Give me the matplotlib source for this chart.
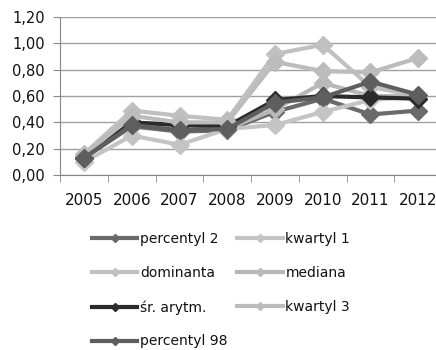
import matplotlib
matplotlib.use("Agg")
import matplotlib.pyplot as plt
from matplotlib.lines import Line2D

years = ["2005", "2006", "2007", "2008", "2009", "2010", "2011", "2012"]
percentyl_2 = [0.13, 0.37, 0.33, 0.34, 0.48, 0.58, 0.46, 0.49]
kwartyl_1 = [0.10, 0.30, 0.23, 0.35, 0.38, 0.48, 0.57, 0.60]
dominanta = [0.16, 0.49, 0.45, 0.42, 0.92, 0.99, 0.67, 0.60]
mediana = [0.14, 0.38, 0.35, 0.35, 0.50, 0.70, 0.60, 0.60]
sr_arytm = [0.13, 0.40, 0.38, 0.37, 0.57, 0.60, 0.59, 0.58]
kwartyl_3 = [0.15, 0.45, 0.40, 0.40, 0.86, 0.79, 0.78, 0.89]
percentyl_98 = [0.13, 0.38, 0.34, 0.35, 0.55, 0.59, 0.71, 0.61]
yticks = [0, 0.2, 0.4, 0.6, 0.8, 1.0, 1.2]

series = [
    ("percentyl 2", percentyl_2, "#6a6a6a"),
    ("kwartyl 1", kwartyl_1, "#c4c4c4"),
    ("dominanta", dominanta, "#c0c0c0"),
    ("mediana", mediana, "#b8b8b8"),
    ("śr. arytm.", sr_arytm, "#2b2b2b"),
    ("kwartyl 3", kwartyl_3, "#bcbcbc"),
    ("percentyl 98", percentyl_98, "#5e5e5e"),
]

plt.rcParams['font.family'] = ['DejaVu Sans']
fig = plt.figure(figsize=(4.36, 3.5), dpi=100)
ax = fig.add_axes([0.138, 0.5, 0.876, 0.451])
x = list(range(len(years)))
lines = {}
for name, vals, col in series:
    ln, = ax.plot(x, vals, color=col, lw=3, marker='D', markersize=9,
                  markeredgecolor=col, markerfacecolor=col, label=name)
    lines[name] = ln

ax.set_xlim(-0.5, len(years) - 0.5)
ax.set_ylim(0, 1.2)
ax.set_yticks(yticks)
ax.set_yticklabels([f"{v:.2f}".replace('.', ',') for v in yticks],
                   fontsize=10.5, color='#111111')
ax.set_xticks(x)
ax.set_xticklabels(years, fontsize=11, color='#111111')
ax.set_xticks([i - 0.5 for i in range(len(years) + 1)], minor=True)
ax.tick_params(axis='x', which='major', length=0, pad=13)
ax.tick_params(axis='x', which='minor', length=5, color='#888888', direction='out')
ax.tick_params(axis='y', length=5, color='#888888', direction='out', pad=6)
ax.grid(axis='y', color='#a0a0a0', lw=1)
ax.set_axisbelow(True)
for s in ['top', 'right']:
    ax.spines[s].set_visible(False)
ax.spines['left'].set_color('#888888')
ax.spines['bottom'].set_color('#888888')

order = ["percentyl 2", "dominanta", "śr. arytm.", "percentyl 98",
         "kwartyl 1", "mediana", "kwartyl 3"]
handles = []
for name in order:
    ln = lines[name]
    handles.append(Line2D([], [], color=ln.get_color(), lw=3, marker='D', markersize=4))
leg = fig.legend(handles, order, ncol=2, loc='upper left', bbox_to_anchor=(0.183, 0.372),
                 frameon=False, fontsize=10, handlelength=3.25, handletextpad=0.2,
                 columnspacing=0.7, labelspacing=1.43)
for t in leg.get_texts():
    t.set_color('#111111')
fig.savefig("out.png", dpi=100)
